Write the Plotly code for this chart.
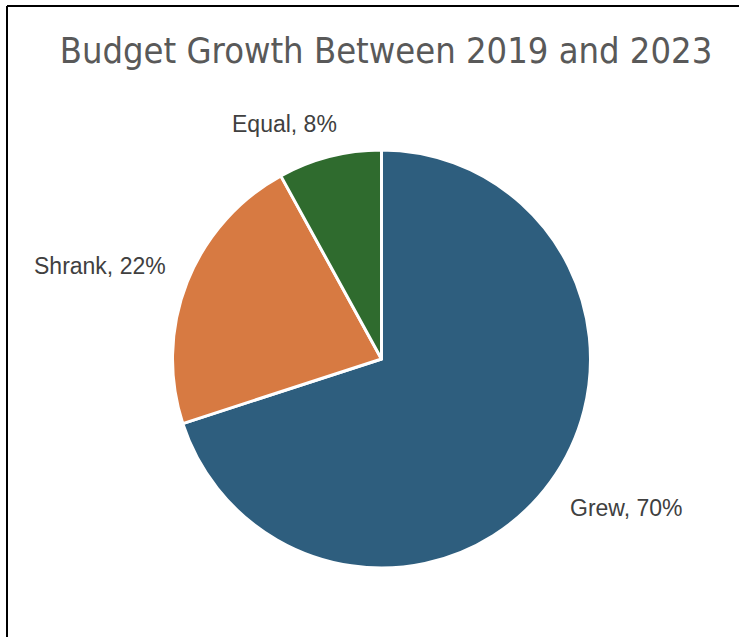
import math
import plotly.graph_objects as go

# Survey result: how budgets changed between 2019 and 2023
categories = ["Grew", "Shrank", "Equal"]
shares = [70, 22, 8]
colors = ["#2E5E7E", "#D77A42", "#2F6B2E"]

W, H = 739, 637
cx, cy, r = 381.5, 359.0, 209.0  # pie centre / radius in pixels

fig = go.Figure(
    go.Pie(
        labels=categories,
        values=shares,
        sort=False,
        direction="clockwise",
        rotation=0,
        textinfo="none",
        hoverinfo="label+percent",
        marker=dict(colors=colors, line=dict(color="white", width=3)),
        domain=dict(x=[(cx - r) / W, (cx + r) / W], y=[1 - (cy + r) / H, 1 - (cy - r) / H]),
        showlegend=False,
    )
)

# Category labels placed just outside each slice, at its middle angle,
# with a small pixel nudge per label for best fit
nudges = {"Grew": (3, 1), "Shrank": (-2, -9), "Equal": (14, 0)}
total = sum(shares)
start = 0.0
annotations = []
gap = 18
for name, v in zip(categories, shares):
    mid = start + v / total * 360 / 2
    start += v / total * 360
    a = math.radians(mid)
    dx, dy = nudges[name]
    px = cx + (r + gap) * math.sin(a) + dx
    py = cy - (r + gap) * math.cos(a) + dy
    xanchor = "left" if math.sin(a) > 0.2 else "right"
    yanchor = "bottom" if math.cos(a) > 0.5 else ("top" if math.cos(a) < -0.5 else "middle")
    annotations.append(
        dict(
            x=px / W, y=1 - py / H, xref="paper", yref="paper",
            text=f"{name}, {v}%", showarrow=False,
            xanchor=xanchor, yanchor=yanchor,
            font=dict(family="Liberation Sans, Arial, sans-serif", size=23, color="#404040"),
        )
    )

fig.update_layout(
    width=W, height=H,
    margin=dict(l=0, r=0, t=0, b=0),
    paper_bgcolor="white",
    plot_bgcolor="white",
    title=dict(
        text="Budget Growth Between 2019 and 2023",
        x=386 / W, xanchor="center",
        y=1 - 50 / H, yanchor="middle",
        font=dict(family="DejaVu Sans Condensed, Arial Narrow, sans-serif",
                  size=36, color="#595959"),
    ),
    annotations=annotations,
    shapes=[
        dict(type="line", xref="paper", yref="paper", x0=7 / W, x1=1, y0=1 - 6 / H, y1=1 - 6 / H,
             line=dict(color="black", width=2)),
        dict(type="line", xref="paper", yref="paper", x0=7 / W, x1=7 / W, y0=0, y1=1 - 6 / H,
             line=dict(color="black", width=2)),
    ],
)

fig.write_html("out.html")
